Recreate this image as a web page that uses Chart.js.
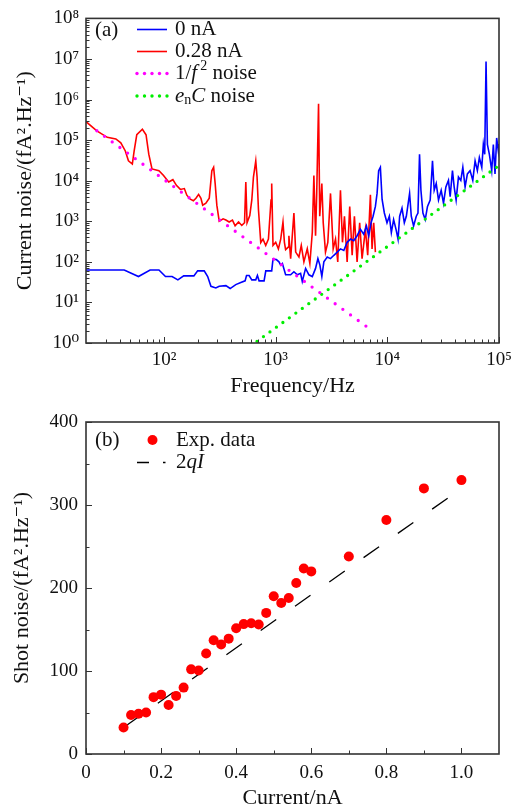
<!DOCTYPE html>
<html><head><meta charset="utf-8">
<script src="https://cdn.jsdelivr.net/npm/chart.js@4/dist/chart.umd.min.js"></script>
<style>
html,body{margin:0;padding:0;background:#fff;width:526px;height:812px;overflow:hidden}
canvas{position:absolute;left:0}
#c1{top:0}
#c2{top:400px}
</style></head><body>
<canvas id="c1" width="526" height="400"></canvas>
<canvas id="c2" width="526" height="412"></canvas>
<script>
// ---------- (a) noise spectra ----------
const freq0nA = [20,44,59,75,90,103,118,133,150,185,200,229,246,263,291,312,358,391,439,487,532,548,578,611,663,686,710,787,815,921,946,1014,1070,1109,1148,1227,1361,1456,1562,1671,1730,1853,1983,2127,2275,2388,2488,2590,2700,2895,3097,3318,3557,3802,4074,4365,4677,5000,5358,5741,6140,6497,6808,7145,7450,7816,8090,8360,8660,8970,9400,9930,10420,10860,11380,11960,12470,12890,13530,14190,14790,15820,16380,17180,18160,18800,19420,19990,20830,21840,22890,24200,25370,26280,27400,28720,30350,31840,33440,35260,36520,38300,39660,41300,43330,45500,47430,49700,52100,55080,58230,61080,64000,66700,70100,72400,74500,76550,78700,82000,86100,89000,92100,95300,98600,100000];
const noise0nA = [63,63,43.5,63,63,43.5,43.5,36,45,45,60,60,43.5,25,22.7,25,26,22,27.5,31,34,46,46,36,36,46,34,34,60,60,116,114,100,83,91,48,48,57,48,52,33,69,48,43.5,69,120,83,43.5,100,132,120,145,174,209,191,303,364,333,440,634,481,766,440,920,1330,2320,4860,17700,21400,3500,1600,920,1330,528,1100,634,364,1330,2100,920,1330,4860,1330,766,1330,1600,44800,5800,1600,1100,2320,3350,30800,5800,8500,3350,5800,2790,7050,10200,4050,17700,7050,3350,12300,10200,21400,7050,14700,17700,10200,30800,17700,37200,21400,78000,44800,8700000,78000,44800,17700,78000,14700,113000,53700,80000];

const freq028nA = [20,25,31,37,41,45,48,52,54,57,64,69,73,78,90,99,110,120,129,140,152,160,172,183,193,204,214,222,237,254,268,278,287,297,312,338,358,383,410,433,465,497,526,540,554,586,611,632,663,681,701,735,770,814,861,908,921,946,1000,1057,1109,1162,1197,1227,1297,1313,1361,1456,1510,1615,1695,1789,1918,2023,2127,2198,2275,2330,2420,2480,2590,2665,2793,2930,3097,3273,3434,3597,3802,3963,4130,4365,4603,4839,5070,5358,5650,5937,6362,6668,7050,7295,7550,7816];
const noise028nA = [284000,169000,117000,107000,86000,54000,31000,25700,54000,136000,186000,136000,45000,19500,17700,13400,9300,10600,7700,6100,6400,4400,3500,3200,3700,4600,3700,2500,2800,3700,17700,21400,8500,2500,1010,1150,1070,960,1070,770,960,790,920,9300,920,1380,3350,12300,30800,12300,1920,300,364,253,364,3350,8500,253,303,209,364,950,303,200,230,440,120,1600,174,132,253,100,209,91,530,13400,440,4860,787000,1330,8500,920,174,303,4860,209,364,100,5800,303,1330,100,2320,145,1330,100,920,120,634,145,4500,209,920,174];

const freqInvF2 = [25, 7000];
const noiseInvF2 = [170000, 2.2];
const freqEnC = [680, 98000];
const noiseEnC = [1.1, 22800];

const xTicksA = [100, 1000, 10000, 100000];
const yTicksA = [1, 10, 100, 1000, 10000, 100000, 1000000, 10000000, 100000000];

// ---------- (b) shot noise ----------
const currentNA = [0.1,0.12,0.14,0.16,0.18,0.2,0.22,0.24,0.26,0.28,0.3,0.32,0.34,0.36,0.38,0.4,0.42,0.44,0.46,0.48,0.5,0.52,0.54,0.56,0.58,0.6,0.7,0.8,0.9,1.0];
const shotNoise = [32,47,48.5,50,68.5,71.5,59,70,80,102,100.5,121,137,132,139,151.5,156.5,157.5,156,170,190,182,188,206,223.5,220,238,282,320,330];
const currentLine = [0.1, 1.0];
const shot2qI = [32, 320];

const xTicksB = [0, 0.2, 0.4, 0.6, 0.8, 1.0];
const yTicksB = [0, 100, 200, 300, 400];

// ---------- helpers ----------
const FONT = '"Liberation Serif", "Times New Roman", "DejaVu Serif", serif';
const INK = '#333';
const TXT = '#111';
const SUP = {'0':'\u2070','1':'\u00b9','2':'\u00b2','3':'\u00b3','4':'\u2074','5':'\u2075','6':'\u2076','7':'\u2077','8':'\u2078','9':'\u2079'};
const pow10Label = v => '10' + SUP[String(Math.round(Math.log10(v)))];
const pts = (xs, ys) => xs.map((x, i) => ({x: x, y: ys[i]}));

function logMinor(lo, hi) {
  const out = [];
  for (let d = Math.floor(Math.log10(lo)); d <= Math.ceil(Math.log10(hi)); d++) {
    for (let m = 2; m <= 9; m++) {
      const v = m * Math.pow(10, d);
      if (v > lo && v < hi) out.push(v);
    }
  }
  return out;
}

function frameTicks(cfg) {
  return {
    id: 'frameTicks',
    afterDraw(chart) {
      const {ctx, chartArea: a, scales} = chart;
      const x = scales.x, y = scales.y;
      ctx.save();
      ctx.strokeStyle = INK;
      ctx.lineWidth = 1;
      ctx.beginPath();
      const xt = (vals, len) => vals.forEach(v => {
        const p = Math.round(x.getPixelForValue(v)) + 0.5;
        ctx.moveTo(p, a.bottom); ctx.lineTo(p, a.bottom - len);
      });
      const yt = (vals, len) => vals.forEach(v => {
        const p = Math.round(y.getPixelForValue(v)) + 0.5;
        ctx.moveTo(a.left, p); ctx.lineTo(a.left + len, p);
      });
      xt(cfg.xMajor, 6); xt(cfg.xMinor, 3.5);
      yt(cfg.yMajor, 6); yt(cfg.yMinor, 3.5);
      ctx.stroke();
      ctx.lineWidth = 1.6;
      ctx.strokeRect(a.left, a.top, a.right - a.left, a.bottom - a.top);
      ctx.restore();
    }
  };
}

function runs(ctx, x, y, parts) {
  // parts: [text, style, size, dy, gapAfter]
  parts.forEach(p => {
    ctx.font = (p[1] || '') + ' ' + (p[2] || 21) + 'px ' + FONT;
    ctx.fillText(p[0], x, y + (p[3] || 0));
    x += ctx.measureText(p[0]).width + (p[4] || 0);
  });
}

const legendA = {
  id: 'legendA',
  afterDraw(chart) {
    const ctx = chart.ctx;
    ctx.save();
    ctx.fillStyle = TXT;
    ctx.textBaseline = 'middle';
    ctx.textAlign = 'left';
    ctx.font = '21px ' + FONT;
    ctx.fillText('(a)', 95, 30);
    const rows = [29.5, 51.5, 73.5, 96];
    ctx.lineWidth = 1.6;
    ctx.strokeStyle = '#0000ff';
    ctx.beginPath(); ctx.moveTo(137, rows[0]); ctx.lineTo(167, rows[0]); ctx.stroke();
    ctx.strokeStyle = '#ff0000';
    ctx.beginPath(); ctx.moveTo(137, rows[1]); ctx.lineTo(167, rows[1]); ctx.stroke();
    [137, 144.5, 152, 159.5, 167].forEach(px => {
      ctx.fillStyle = '#ff00ff';
      ctx.beginPath(); ctx.arc(px, rows[2], 1.7, 0, 2 * Math.PI); ctx.fill();
      ctx.fillStyle = '#00ee00';
      ctx.beginPath(); ctx.arc(px, rows[3], 1.7, 0, 2 * Math.PI); ctx.fill();
    });
    ctx.fillStyle = TXT;
    runs(ctx, 175, rows[0], [['0 nA']]);
    runs(ctx, 175, rows[1], [['0.28 nA']]);
    runs(ctx, 175, rows[2], [['1/'], ['f', 'italic', 21, 0, 3], ['2', '', 14, -7], [' noise']]);
    runs(ctx, 175, rows[3], [['e', 'italic'], ['n', '', 14, 4], ['C', 'italic'], [' noise']]);
    ctx.restore();
  }
};

const legendB = {
  id: 'legendB',
  afterDraw(chart) {
    const ctx = chart.ctx;
    ctx.save();
    ctx.fillStyle = TXT;
    ctx.textBaseline = 'middle';
    ctx.font = '21px ' + FONT;
    ctx.fillText('(b)', 95, 40);
    ctx.fillStyle = '#ff0000';
    ctx.beginPath(); ctx.arc(152.5, 40, 5, 0, 2 * Math.PI); ctx.fill();
    ctx.strokeStyle = '#000';
    ctx.lineWidth = 1.4;
    ctx.beginPath(); ctx.moveTo(137, 62.5); ctx.lineTo(149, 62.5); ctx.moveTo(163, 62.5); ctx.lineTo(165.5, 62.5); ctx.stroke();
    ctx.fillStyle = TXT;
    runs(ctx, 176, 40, [['Exp. data']]);
    runs(ctx, 176, 62.5, [['2'], ['qI', 'italic']]);
    ctx.restore();
  }
};

const baseTicks = {color: TXT, font: {family: FONT, size: 19}, autoSkip: false, maxRotation: 0, minRotation: 0};

// ---------- chart (a) ----------
new Chart(document.getElementById('c1'), {
  type: 'scatter',
  data: {
    datasets: [
      {label: '0 nA', data: pts(freq0nA, noise0nA), showLine: true, borderColor: '#0000ff', borderWidth: 1.6, pointRadius: 0, order: 2},
      {label: '0.28 nA', data: pts(freq028nA, noise028nA), showLine: true, borderColor: '#ff0000', borderWidth: 1.6, pointRadius: 0, order: 3},
      {label: '1/f\u00b2 noise', data: pts(freqInvF2, noiseInvF2), showLine: true, borderColor: '#ff00ff', borderWidth: 3.3, borderDash: [0, 9.5], borderCapStyle: 'round', pointRadius: 0, order: 0},
      {label: 'enC noise', data: pts(freqEnC, noiseEnC), showLine: true, borderColor: '#00ee00', borderWidth: 3.3, borderDash: [0, 8], borderCapStyle: 'round', pointRadius: 0, order: 1}
    ]
  },
  options: {
    responsive: false, animation: false, devicePixelRatio: 1,
    layout: {padding: {top: 11, right: 27, left: 0, bottom: 0}},
    plugins: {legend: {display: false}, tooltip: {enabled: false}},
    scales: {
      x: {
        type: 'logarithmic', min: 20, max: 100000,
        afterBuildTicks: s => { s.ticks = xTicksA.map(v => ({value: v})); },
        afterFit: s => { s.height = 57; },
        grid: {display: false, drawTicks: false}, border: {display: false},
        ticks: Object.assign({}, baseTicks, {padding: 6, callback: v => pow10Label(v)}),
        title: {display: true, text: 'Frequency/Hz', color: TXT, font: {family: FONT, size: 22}, padding: {top: 0, bottom: 1}}
      },
      y: {
        type: 'logarithmic', min: 1, max: 100000000,
        afterBuildTicks: s => { s.ticks = yTicksA.map(v => ({value: v})); },
        afterFit: s => { s.width = 86; },
        grid: {display: false, drawTicks: false}, border: {display: false},
        ticks: Object.assign({}, baseTicks, {padding: 7, callback: v => pow10Label(v)}),
        title: {display: true, text: 'Current noise/(fA\u00b2.Hz\u207b\u00b9)', color: TXT, font: {family: FONT, size: 22}, padding: {top: 12, bottom: 0}}
      }
    }
  },
  plugins: [frameTicks({xMajor: xTicksA, xMinor: logMinor(20, 100000).filter(v => v >= 20), yMajor: yTicksA, yMinor: logMinor(1, 1e8)}), legendA]
});

// ---------- chart (b) ----------
new Chart(document.getElementById('c2'), {
  type: 'scatter',
  data: {
    datasets: [
      {label: 'Exp. data', data: pts(currentNA, shotNoise), pointRadius: 5, pointBackgroundColor: '#ff0000', pointBorderWidth: 0, order: 0},
      {label: '2qI', data: pts(currentLine, shot2qI), showLine: true, borderColor: '#000', borderWidth: 1.3, borderDash: [19, 23], pointRadius: 0, order: 1}
    ]
  },
  options: {
    responsive: false, animation: false, devicePixelRatio: 1,
    layout: {padding: {top: 22, right: 27, left: 0, bottom: 0}},
    plugins: {legend: {display: false}, tooltip: {enabled: false}},
    scales: {
      x: {
        type: 'linear', min: 0, max: 1.1,
        afterBuildTicks: s => { s.ticks = xTicksB.map(v => ({value: v})); },
        afterFit: s => { s.height = 58; },
        grid: {display: false, drawTicks: false}, border: {display: false},
        ticks: Object.assign({}, baseTicks, {padding: 8, callback: v => v === 0 ? '0' : v.toFixed(1)}),
        title: {display: true, text: 'Current/nA', color: TXT, font: {family: FONT, size: 22}, padding: {top: 0, bottom: 1}}
      },
      y: {
        type: 'linear', min: 0, max: 400,
        afterBuildTicks: s => { s.ticks = yTicksB.map(v => ({value: v})); },
        afterFit: s => { s.width = 86; },
        grid: {display: false, drawTicks: false}, border: {display: false},
        ticks: Object.assign({}, baseTicks, {padding: 8, callback: v => String(v)}),
        title: {display: true, text: 'Shot noise/(fA\u00b2.Hz\u207b\u00b9)', color: TXT, font: {family: FONT, size: 22}, padding: {top: 9, bottom: 0}}
      }
    }
  },
  plugins: [frameTicks({xMajor: xTicksB, xMinor: [0.1, 0.3, 0.5, 0.7, 0.9], yMajor: yTicksB, yMinor: [50, 150, 250, 350]}), legendB]
});
</script>
</body></html>
